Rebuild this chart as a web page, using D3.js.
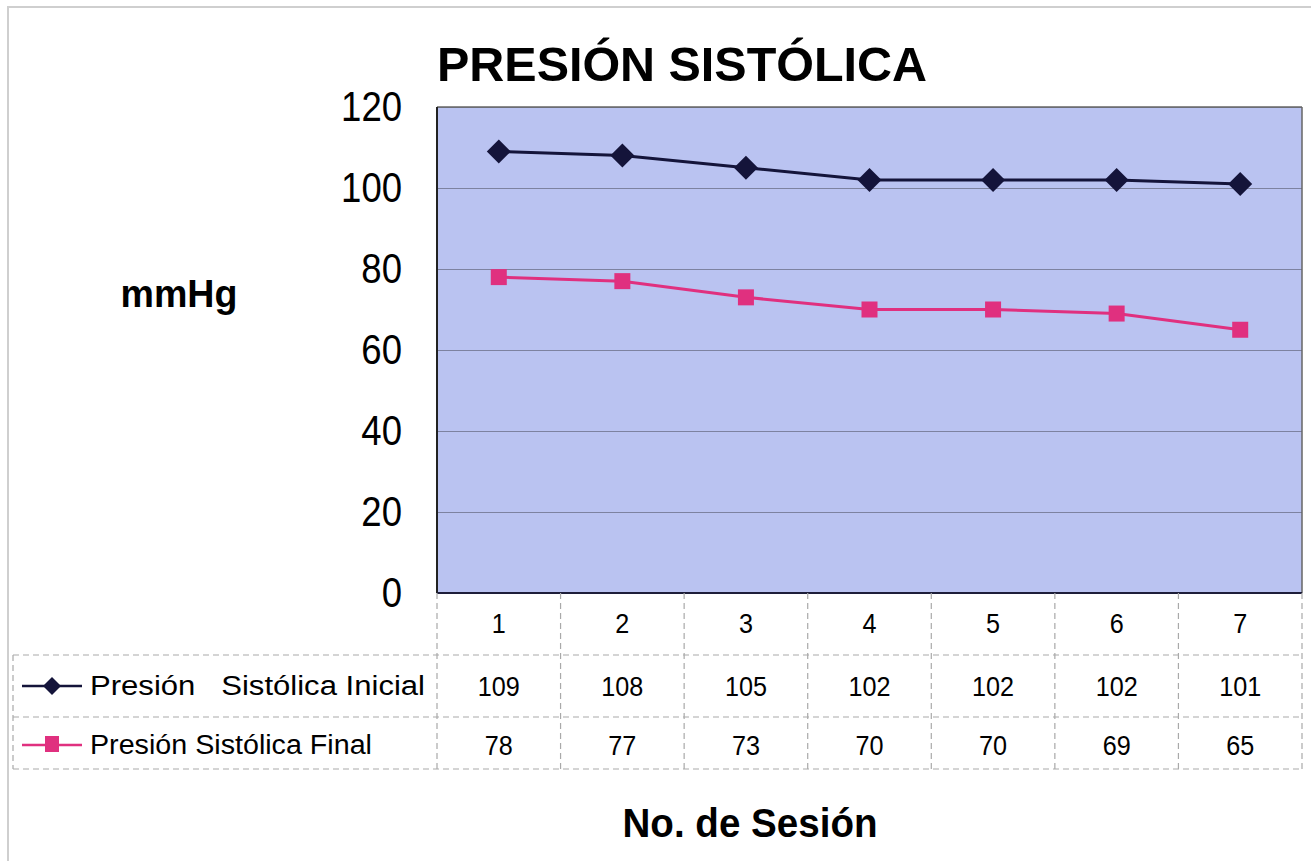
<!DOCTYPE html>
<html>
<head>
<meta charset="utf-8">
<script src="https://cdn.jsdelivr.net/npm/d3@7"></script>
<style>
  html, body { margin: 0; padding: 0; background: #fff; }
  svg { display: block; font-family: "Liberation Sans", Arial, sans-serif; }
</style>
</head>
<body>
<div id="chart"></div>
<script>
const sessions = ["1", "2", "3", "4", "5", "6", "7"];
const inicial = [109, 108, 105, 102, 102, 102, 101];
const final = [78, 77, 73, 70, 70, 69, 65];
const yTicks = [0, 20, 40, 60, 80, 100, 120];
const seriesNames = ["Presión\u00a0\u00a0 Sistólica Inicial", "Presión Sistólica Final"];

const W = 1311, H = 861;
const P = { l: 437, r: 1302, t: 107, b: 593 };
const rowY = [655, 717, 769]; // table row boundaries
const tableLeft = 13;

// squeeze digits a little, the original font is narrower than Arial
const digitLen = (s, size, k) => String(s).length * 0.556 * size * k;

const svg = d3.select("#chart").append("svg")
  .attr("width", W).attr("height", H);

// outer chart frame
svg.append("rect")
  .attr("x", 8).attr("y", 7).attr("width", W + 20).attr("height", H + 20)
  .attr("fill", "#fff").attr("stroke", "#cfcfcf").attr("stroke-width", 2);

const x = d3.scaleBand().domain(sessions).range([P.l, P.r]);
const y = d3.scaleLinear().domain([0, 120]).range([P.b, P.t]);
const cx = d => x(d) + x.bandwidth() / 2;

// plot background
svg.append("rect")
  .attr("x", P.l).attr("y", P.t)
  .attr("width", P.r - P.l).attr("height", P.b - P.t)
  .attr("fill", "#bac3f1");

// gridlines
const grid = svg.append("g")
  .attr("transform", `translate(${P.l},0)`)
  .call(d3.axisLeft(y).tickValues(yTicks).tickSize(-(P.r - P.l)).tickFormat(""));
grid.select(".domain").remove();
grid.selectAll("line").attr("stroke", "#7d82a0").attr("stroke-width", 1);

// plot border
svg.append("line").attr("x1", P.l).attr("x2", P.r).attr("y1", P.t).attr("y2", P.t)
  .attr("stroke", "#666").attr("stroke-width", 1.5);
svg.append("line").attr("x1", P.r).attr("x2", P.r).attr("y1", P.t).attr("y2", P.b)
  .attr("stroke", "#666").attr("stroke-width", 1.5);
svg.append("line").attr("x1", P.l).attr("x2", P.l).attr("y1", P.t).attr("y2", P.b)
  .attr("stroke", "#222").attr("stroke-width", 2);
svg.append("line").attr("x1", P.l).attr("x2", P.r).attr("y1", P.b).attr("y2", P.b)
  .attr("stroke", "#1e1e3a").attr("stroke-width", 2);

// y axis labels
const yAxis = svg.append("g")
  .attr("transform", `translate(${P.l - 35},0)`)
  .call(d3.axisLeft(y).tickValues(yTicks).tickSize(0).tickPadding(0));
yAxis.select(".domain").remove();
yAxis.selectAll("text")
  .attr("font-family", "Liberation Sans, Arial, sans-serif")
  .attr("font-size", 42).attr("fill", "#000")
  .attr("textLength", d => digitLen(d, 42, 0.87))
  .attr("lengthAdjust", "spacingAndGlyphs");

// title and axis titles
svg.append("text").attr("x", P.l).attr("y", 81)
  .attr("font-size", 49).attr("font-weight", "bold")
  .attr("textLength", 490).attr("lengthAdjust", "spacingAndGlyphs")
  .text("PRESIÓN SISTÓLICA");
svg.append("text").attr("x", 179).attr("y", 307)
  .attr("text-anchor", "middle").attr("font-size", 38).attr("font-weight", "bold")
  .attr("textLength", 117).attr("lengthAdjust", "spacingAndGlyphs")
  .text("mmHg");
svg.append("text").attr("x", 750).attr("y", 837)
  .attr("text-anchor", "middle").attr("font-size", 40).attr("font-weight", "bold")
  .attr("textLength", 255).attr("lengthAdjust", "spacingAndGlyphs")
  .text("No. de Sesión");

// data table grid (dashed)
const dash = { stroke: "#a9a9a9", "stroke-width": 1.2, "stroke-dasharray": "6,4" };
const tg = svg.append("g");
function dline(x1, y1, x2, y2) {
  const l = tg.append("line").attr("x1", x1).attr("y1", y1).attr("x2", x2).attr("y2", y2);
  Object.entries(dash).forEach(([k, v]) => l.attr(k, v));
}
rowY.forEach(v => dline(tableLeft, v, P.r, v));
dline(tableLeft, rowY[0], tableLeft, rowY[2]);
sessions.forEach(s => dline(x(s), P.b, x(s), rowY[2]));
dline(P.r, P.b, P.r, rowY[2]);

// category labels
svg.append("g").selectAll("text").data(sessions).join("text")
  .attr("x", d => cx(d)).attr("y", 623).attr("dy", "0.35em")
  .attr("text-anchor", "middle").attr("font-size", 28)
  .attr("textLength", d => digitLen(d, 28, 0.9)).attr("lengthAdjust", "spacingAndGlyphs")
  .text(d => d);

const series = [
  { name: seriesNames[0], values: inicial, color: "#14143a", shape: "diamond", rowMid: 686, keyLen: 335 },
  { name: seriesNames[1], values: final, color: "#e0307f", shape: "square", rowMid: 745, keyLen: 282 },
];

const line = d3.line().x((d, i) => cx(sessions[i])).y(d => y(d));

series.forEach(s => {
  svg.append("path").datum(s.values)
    .attr("d", line).attr("fill", "none")
    .attr("stroke", s.color).attr("stroke-width", 3);
  s.values.forEach((v, i) => {
    const g = svg.append("g").attr("transform", `translate(${cx(sessions[i])},${y(v)})`);
    if (s.shape === "diamond") {
      g.append("path").attr("d", "M0,-12 L12,0 L0,12 L-12,0 Z").attr("fill", s.color);
    } else {
      g.append("rect").attr("x", -8).attr("y", -8).attr("width", 16).attr("height", 16)
        .attr("fill", s.color);
    }
  });

  // table row values
  svg.append("g").selectAll("text").data(s.values).join("text")
    .attr("x", (d, i) => cx(sessions[i])).attr("y", s.rowMid).attr("dy", "0.35em")
    .attr("text-anchor", "middle").attr("font-size", 28)
    .attr("textLength", d => digitLen(d, 28, 0.9)).attr("lengthAdjust", "spacingAndGlyphs")
    .text(d => d);

  // legend key
  svg.append("line").attr("x1", 22).attr("x2", 82).attr("y1", s.rowMid).attr("y2", s.rowMid)
    .attr("stroke", s.color).attr("stroke-width", 2.5);
  const kg = svg.append("g").attr("transform", `translate(52,${s.rowMid})`);
  if (s.shape === "diamond") {
    kg.append("path").attr("d", "M0,-9 L9,0 L0,9 L-9,0 Z").attr("fill", s.color);
  } else {
    kg.append("rect").attr("x", -7).attr("y", -9).attr("width", 14).attr("height", 16)
      .attr("fill", s.color);
  }
  svg.append("text").attr("x", 90).attr("y", s.rowMid).attr("dy", "0.35em")
    .attr("font-size", 27).attr("textLength", s.keyLen)
    .attr("lengthAdjust", "spacingAndGlyphs").text(s.name);
});
</script>
</body>
</html>
